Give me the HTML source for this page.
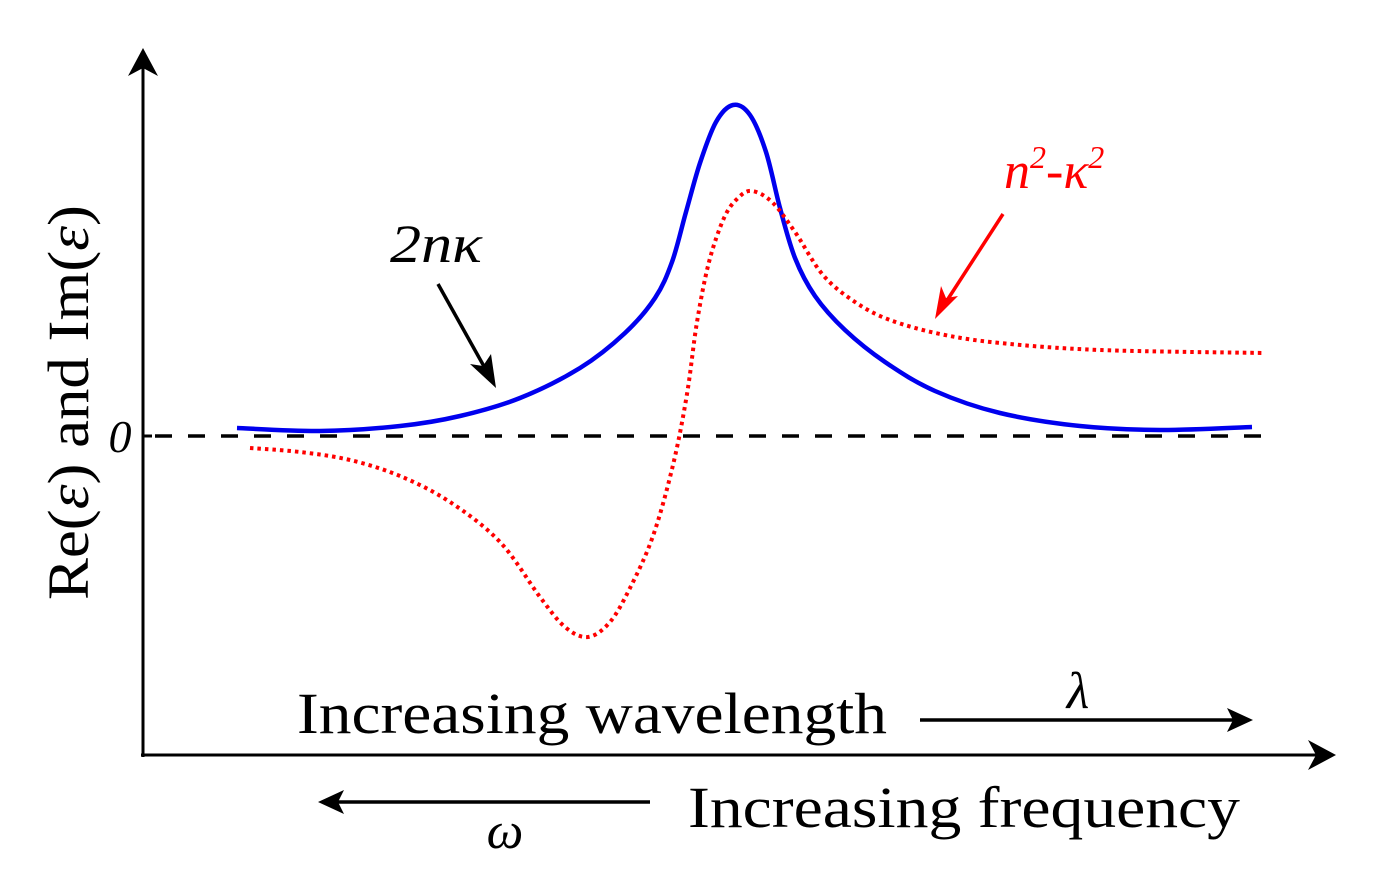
<!DOCTYPE html>
<html><head><meta charset="utf-8"><style>
html,body{margin:0;padding:0;background:#fff}
svg{display:block}
text{font-family:"Liberation Serif",serif}
</style></head><body>
<svg id="s" width="1395" height="875" viewBox="0 0 1395 875" xmlns="http://www.w3.org/2000/svg">
<line x1="143" y1="757" x2="143" y2="62" stroke="#000" stroke-width="3"/>
<path d="M143,48 L128,76 L143,68 L158,76 Z" fill="#000"/>
<line x1="141" y1="755" x2="1322" y2="755" stroke="#000" stroke-width="3"/>
<path d="M1336,755 L1308,740 L1316,755 L1308,770 Z" fill="#000"/>
<line x1="143" y1="436" x2="152" y2="436" stroke="#000" stroke-width="3"/>
<line x1="155" y1="436" x2="1265" y2="436" stroke="#000" stroke-width="3.5" stroke-dasharray="17,16"/>
<text x="120" y="452" font-size="46" font-style="italic" text-anchor="middle">0</text>
<text transform="translate(88,600) rotate(-90)" font-size="58" textLength="395" lengthAdjust="spacingAndGlyphs">Re(<tspan font-style="italic">ε</tspan>) and Im(<tspan font-style="italic">ε</tspan>)</text>
<path id="blue" fill="none" stroke="#0000ee" stroke-width="4.5"/>
<path id="red" fill="none" stroke="#ff0000" stroke-width="4" stroke-dasharray="3.5,4"/>
<text x="390" y="262" font-size="54" font-style="italic" textLength="92" lengthAdjust="spacingAndGlyphs">2nκ</text>
<line x1="438" y1="284" x2="486" y2="370" stroke="#000" stroke-width="3.5"/>
<path d="M496,388 L470,364 L483,366 L491,354 Z" fill="#000"/>
<text x="1004" y="188" font-size="52" font-style="italic" fill="#f00">n<tspan font-size="32" dy="-20">2</tspan><tspan dy="20">-κ</tspan><tspan font-size="32" dy="-20">2</tspan></text>
<line x1="1003" y1="214" x2="946" y2="302" stroke="#f00" stroke-width="3.5"/>
<path d="M935,319 L941,286 L946,298 L958,296 Z" fill="#f00"/>
<text x="297" y="733" font-size="58" textLength="590" lengthAdjust="spacingAndGlyphs">Increasing wavelength</text>
<line x1="920" y1="720" x2="1235" y2="720" stroke="#000" stroke-width="3.5"/>
<path d="M1253,720 L1227,708 L1233,720 L1227,732 Z" fill="#000"/>
<text x="1078" y="708" font-size="52" font-style="italic" text-anchor="middle">λ</text>
<line x1="650" y1="802" x2="335" y2="802" stroke="#000" stroke-width="3.5"/>
<path d="M318,802 L344,790 L338,802 L344,814 Z" fill="#000"/>
<text x="688" y="827" font-size="58" textLength="552" lengthAdjust="spacingAndGlyphs">Increasing frequency</text>
<text x="505" y="848" font-size="52" font-style="italic" text-anchor="middle">ω</text>
</svg>
<script>
function cr(p){
  let d="M"+p[0][0]+","+p[0][1];
  for(let i=0;i<p.length-1;i++){
    const p0=p[Math.max(i-1,0)],p1=p[i],p2=p[i+1],p3=p[Math.min(i+2,p.length-1)];
    const c1=[p1[0]+(p2[0]-p0[0])/6,p1[1]+(p2[1]-p0[1])/6];
    const c2=[p2[0]-(p3[0]-p1[0])/6,p2[1]-(p3[1]-p1[1])/6];
    d+=" C"+c1[0].toFixed(1)+","+c1[1].toFixed(1)+" "+c2[0].toFixed(1)+","+c2[1].toFixed(1)+" "+p2[0]+","+p2[1];
  }
  return d;
}
const blue=[[237,428],[320,431],[400,426],[460,416],[520,398],[580,368],[625,333],[655,298],[672,262],[686,212],[700,163],[716,122],[733,105],[750,115],[766,152],[780,208],[795,258],[815,296],[845,330],[885,362],[935,391],[1000,413],[1080,426],[1160,430],[1252,427]];
const red=[[250,448],[300,452],[350,460],[400,476],[450,502],[500,542],[540,597],[565,627],[588,637],[610,622],[630,588],[653,536],[673,465],[687,394],[697,322],[709,262],[724,218],[738,198],[752,191],[772,202],[795,232],[823,275],[855,302],[890,320],[940,334],[1000,343],[1100,350],[1265,353]];
document.getElementById("blue").setAttribute("d",cr(blue));
document.getElementById("red").setAttribute("d",cr(red));
</script>
</body></html>
